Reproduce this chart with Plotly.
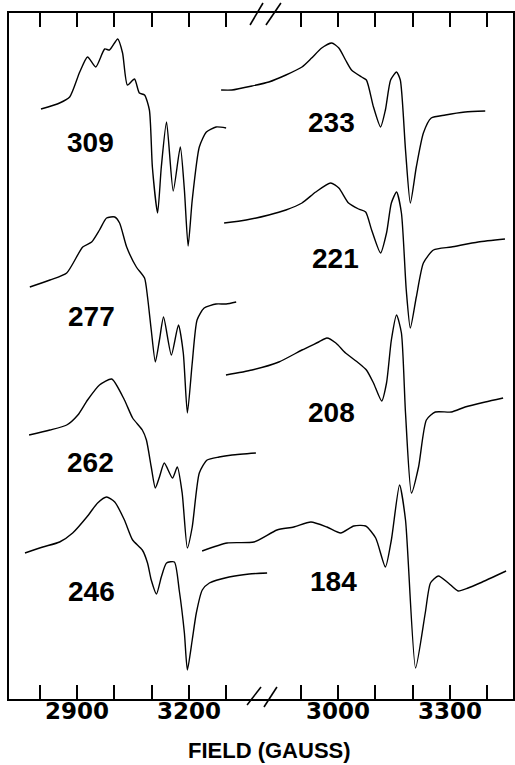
import plotly.graph_objects as go

# ---------------- data ----------------
# field in gauss, intensity in arbitrary units relative to each trace's own start
f309 = [2803, 2853, 2880, 2907, 2928, 2950, 2974, 2987, 3009, 3022, 3035, 3054, 3067, 3081, 3094, 3102,
        3116, 3126, 3140, 3158, 3177, 3188, 3198, 3209, 3228, 3247, 3273, 3300]
s309 = [0, 6, 12, 37, 52, 42, 60, 59, 70, 56, 24, 30, 16, 14, -1, -58,
        -104, -58, -13, -82, -38, -81, -137, -91, -38, -23, -18, -19]

f277 = [2773, 2827, 2872, 2915, 2939, 2960, 2979, 3001, 3014, 3033, 3059, 3081, 3089, 3099, 3110, 3121,
        3132, 3153, 3172, 3185, 3196, 3209, 3222, 3241, 3273, 3300, 3327]
s277 = [0, 7, 14, 40, 45, 57, 69, 70, 64, 40, 20, 9, -10, -43, -75, -53,
        -30, -68, -38, -66, -126, -76, -33, -21, -17, -17, -15]

f262 = [2771, 2827, 2872, 2902, 2928, 2960, 2993, 3027, 3049, 3075, 3086, 3099, 3110, 3121, 3134, 3156,
        3169, 3182, 3196, 3209, 3228, 3249, 3281, 3316, 3380]
s262 = [0, 5, 10, 20, 35, 50, 56, 35, 17, 5, -5, -32, -53, -42, -28, -43,
        -32, -58, -113, -92, -38, -25, -22, -20, -18]

f246 = [2760, 2808, 2853, 2888, 2926, 2955, 2979, 3001, 3027, 3049, 3075, 3089, 3099, 3113, 3126, 3140,
        3161, 3174, 3188, 3196, 3209, 3220, 3236, 3255, 3308, 3362, 3410]
s246 = [0, 6, 11, 20, 36, 50, 56, 51, 33, 13, 3, -10, -27, -41, -24, -10,
        -9, -37, -80, -117, -87, -60, -37, -30, -24, -21, -20]

f233 = [2686, 2715, 2769, 2814, 2860, 2903, 2929, 2956, 2983, 3002, 3020, 3036, 3063, 3076, 3095, 3114,
        3127, 3141, 3157, 3167, 3181, 3194, 3210, 3229, 3250, 3288, 3341, 3395]
s233 = [0, 0, 4, 8, 15, 23, 32, 42, 47, 42, 30, 20, 13, 10, -17, -37,
        -20, 10, 18, 10, -60, -113, -77, -43, -28, -25, -22, -21]

f221 = [2694, 2753, 2814, 2860, 2903, 2940, 2980, 3002, 3028, 3055, 3074, 3090, 3114, 3130, 3143, 3157,
        3170, 3183, 3194, 3210, 3229, 3256, 3304, 3376, 3448]
s221 = [0, 3, 8, 13, 20, 31, 40, 35, 20, 14, 11, -7, -30, -10, 20, 31,
        10, -67, -105, -74, -40, -27, -24, -19, -16]

f208 = [2699, 2769, 2841, 2903, 2948, 2970, 2994, 3020, 3055, 3076, 3095, 3117, 3130, 3143, 3157, 3170,
        3181, 3197, 3216, 3237, 3261, 3304, 3341, 3395, 3443]
s208 = [0, 5, 13, 25, 33, 37, 32, 22, 12, 5, -8, -26, -8, 35, 60, 42,
        -38, -118, -92, -45, -37, -37, -32, -27, -23]

f184 = [2635, 2702, 2774, 2836, 2881, 2927, 2970, 3007, 3042, 3074, 3101, 3127, 3143, 3165, 3181, 3208,
        3234, 3248, 3269, 3296, 3322, 3349, 3381, 3451]
s184 = [0, 8, 9, 21, 24, 29, 24, 18, 25, 25, 13, -16, 11, 66, 31, -117,
        -62, -32, -25, -32, -40, -37, -32, -20]

temps_left = ["309", "277", "262", "246"]
temps_right = ["233", "221", "208", "184"]
offsets_left = [590, 412, 264, 146]
offsets_right = [609, 476, 324, 148]

left_fields = [f309, f277, f262, f246]
left_signals = [s309, s277, s262, s246]
right_fields = [f233, f221, f208, f184]
right_signals = [s233, s221, s208, s184]

left_ticks = [2800, 2900, 3000, 3100, 3200, 3300]
left_labels = [2900, 3200]
right_ticks = [2900, 3000, 3100, 3200, 3300, 3400]
right_labels = [3000, 3300]

# ---------------- figure ----------------
W, H = 515, 765
ML, MR, MT, MB = 9, 0, 13, 66
PW, PH = W - ML - MR, H - MT - MB


def px(x):
    return (x - ML) / PW


def py(y):
    return (H - MB - y) / PH


fig = go.Figure()
line = dict(color="black", width=1.4, shape="spline", smoothing=0.6)
for f, s, o in zip(left_fields, left_signals, offsets_left):
    fig.add_trace(go.Scatter(x=f, y=[v + o for v in s], mode="lines", line=line,
                             xaxis="x", yaxis="y", showlegend=False, hoverinfo="skip"))
for f, s, o in zip(right_fields, right_signals, offsets_right):
    fig.add_trace(go.Scatter(x=f, y=[v + o for v in s], mode="lines", line=line,
                             xaxis="x2", yaxis="y", showlegend=False, hoverinfo="skip"))

scale = 2.674  # gauss per pixel
axis_common = dict(domain=[0, 1], showgrid=False, zeroline=False, showline=True,
                   linecolor="black", linewidth=2, mirror="ticks", ticks="inside",
                   ticklen=14, tickwidth=1.5, tickcolor="black", showticklabels=False)
fig.update_layout(
    width=W, height=H, paper_bgcolor="white", plot_bgcolor="white",
    margin=dict(l=ML, r=MR, t=MT, b=MB),
    xaxis=dict(range=[2800 - 31 * scale, 2800 + (W - 40) * scale],
               tickvals=left_ticks, **axis_common),
    xaxis2=dict(range=[2900 - (302 - ML) * scale, 2900 + (W - 302) * scale],
                tickvals=right_ticks, overlaying="x", side="bottom", **axis_common),
    yaxis=dict(range=[0, PH], showgrid=False, zeroline=False, showticklabels=False,
               ticks="", showline=True, linecolor="black", linewidth=2, mirror=True),
)

# tick labels (placed on the data axes)
tick_font = dict(family="DejaVu Sans", size=23, color="black")
for xr, vals in (("x", left_labels), ("x2", right_labels)):
    for v in vals:
        fig.add_annotation(text="<b>%d</b>" % v, x=v, xref=xr, y=py(711), yref="paper",
                           showarrow=False, xanchor="center", yanchor="middle", font=tick_font)

# temperature labels
lab_font = dict(family="Liberation Sans", size=28, color="black")
left_lab_pos = [(91, 143), (92, 316), (91, 462), (92, 591)]
right_lab_pos = [(333, 123), (337, 258), (333, 413), (335, 581)]
for t, (x, y) in zip(temps_left + temps_right, left_lab_pos + right_lab_pos):
    fig.add_annotation(text="<b>%s</b>" % t, x=px(x), y=py(y), xref="paper", yref="paper",
                       showarrow=False, font=lab_font, xanchor="center", yanchor="middle")

# axis title
fig.add_annotation(text="<b>FIELD (GAUSS)</b>", x=px(271), y=py(751), xref="paper", yref="paper",
                   showarrow=False, xanchor="center", yanchor="middle",
                   font=dict(family="Liberation Sans", size=22, color="black"))

# axis break marks
for (x0, y0, x1, y1) in [(251, 25, 264, 3), (267, 25, 282, 3), (248, 705, 262, 687), (265, 707, 278, 687)]:
    fig.add_shape(type="line", xref="paper", yref="paper", x0=px(x0), y0=py(y0), x1=px(x1), y1=py(y1),
                  line=dict(color="black", width=1.6))

fig.write_html("out.html", config={"displayModeBar": False},
               post_script="document.body.style.margin='0';document.body.style.overflow='hidden';")
